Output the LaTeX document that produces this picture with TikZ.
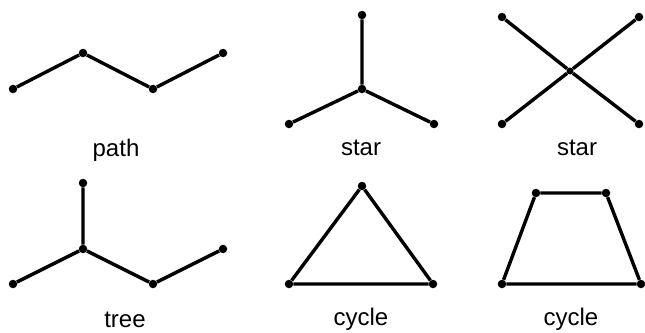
\documentclass[tikz,border=0pt]{standalone}
\usepackage{fontspec}
\setmainfont{Liberation Sans}
\begin{document}
\begin{tikzpicture}[x=1pt,y=-1pt,
  vtx/.style={circle,fill=black,inner sep=0pt,minimum size=8.5pt},
  edge/.style={line width=3.4pt,black},
  lbl/.style={anchor=base,inner sep=0pt,font=\fontsize{24}{29}\selectfont}]
\useasboundingbox (0,0) rectangle (645,332);
% path
\node[vtx] (p1) at (13,89) {};
\node[vtx] (p2) at (83,53) {};
\node[vtx] (p3) at (153,89) {};
\node[vtx] (p4) at (223,53) {};
\draw[edge] (p1) -- (p2) -- (p3) -- (p4);
\node[lbl] (lp) at (116,156) {path};
% star 1
\node[vtx] (s0) at (362,89) {};
\node[vtx] (s1) at (362,15) {};
\node[vtx] (s2) at (289,124) {};
\node[vtx] (s3) at (434,124) {};
\draw[edge] (s0) -- (s1) (s0) -- (s2) (s0) -- (s3);
\node[lbl] (ls1) at (361,155) {star};
% star 2
\node[vtx,minimum size=7pt] (x0) at (570,71) {};
\node[vtx] (x1) at (502,17) {};
\node[vtx] (x2) at (639,17) {};
\node[vtx] (x3) at (502,124) {};
\node[vtx] (x4) at (639,124) {};
\draw[edge] (x0) -- (x1) (x0) -- (x2) (x0) -- (x3) (x0) -- (x4);
\node[lbl] (ls2) at (577,155) {star};
% tree
\node[vtx] (t1) at (13,284) {};
\node[vtx] (t2) at (83,249) {};
\node[vtx] (t3) at (153,284) {};
\node[vtx] (t4) at (223,249) {};
\node[vtx] (t5) at (83,183) {};
\draw[edge] (t1) -- (t2) -- (t3) -- (t4) (t2) -- (t5);
\node[lbl] (lt) at (125,327) {tree};
% triangle
\node[vtx] (c1) at (289,284) {};
\node[vtx] (c2) at (362,186) {};
\node[vtx] (c3) at (433,284) {};
\draw[edge] (c1) -- (c2) -- (c3) -- (c1);
\node[lbl] (lc1) at (361,325) {cycle};
% trapezoid
\node[vtx] (q1) at (502,284) {};
\node[vtx] (q2) at (536,193) {};
\node[vtx] (q3) at (606,193) {};
\node[vtx] (q4) at (641,284) {};
\draw[edge] (q1) -- (q2) -- (q3) -- (q4) -- (q1);
\node[lbl] (lc2) at (571,325) {cycle};
\end{tikzpicture}
\end{document}
